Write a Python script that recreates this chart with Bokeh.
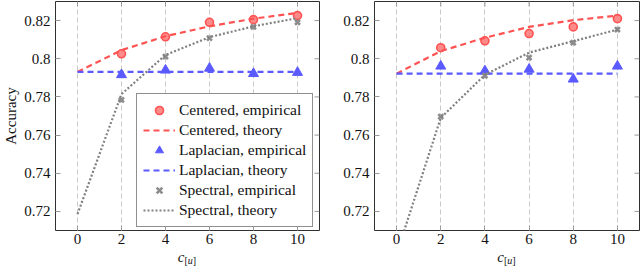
import math
from bokeh.plotting import figure
from bokeh.models import Legend, LegendItem, FixedTicker, Range1d, Div
from bokeh.layouts import row, column
from bokeh.embed import file_html
from bokeh.resources import INLINE

# ---------------- data ----------------
x_theory = [0, 2, 4, 6, 8, 10]
x_emp = [2, 4, 6, 8, 10]
x_ticks = [0, 2, 4, 6, 8, 10]
y_ticks = [0.72, 0.74, 0.76, 0.78, 0.80, 0.82]
y_tick_labels = {0.72: "0.72", 0.74: "0.74", 0.76: "0.76", 0.78: "0.78", 0.8: "0.8", 0.82: "0.82"}
x_min, x_max = -1, 11
y_min, y_max = 0.71, 0.83

# left panel
cent_emp_L = [0.8026, 0.8115, 0.8191, 0.8205, 0.8226]
cent_th_L = [0.7931, 0.8045, 0.8118, 0.8170, 0.8210, 0.8240]
lap_emp_L = [0.7916, 0.7940, 0.7950, 0.7922, 0.7928]
lap_th_L = [0.7931, 0.7931, 0.7931, 0.7931, 0.7931, 0.7931]
spec_emp_L = [0.7784, 0.8011, 0.8108, 0.8167, 0.8191]
spec_th_L = [0.7186, 0.7815, 0.8020, 0.8113, 0.8170, 0.8213]

# right panel
cent_emp_R = [0.8058, 0.8094, 0.8132, 0.8167, 0.8210]
cent_th_R = [0.7922, 0.8040, 0.8110, 0.8167, 0.8202, 0.8226]
lap_emp_R = [0.7961, 0.7936, 0.7945, 0.7893, 0.7961]
lap_th_R = [0.7922, 0.7922, 0.7922, 0.7922, 0.7922, 0.7922]
spec_emp_R = [0.7697, 0.7911, 0.8006, 0.8084, 0.8153]
spec_th_R = [0.6977, 0.7690, 0.7916, 0.8032, 0.8092, 0.8153]

legend_labels = ["Centered, empirical", "Centered, theory",
                 "Laplacian, empirical", "Laplacian, theory",
                 "Spectral, empirical", "Spectral, theory"]

FONT = "'Liberation Serif', 'DejaVu Serif', serif"
RED_LINE = "#ff5252"
RED_FILL = "#ff8a8a"
BLUE = "#5a5aff"
GRAY = "#8c8c8c"
TICK = "#9a9a9a"


def make_panel(cent_emp, cent_th, lap_emp, lap_th, spec_emp, spec_th,
               border_left, show_ylabel, show_legend):
    p = figure(width=320, height=250, output_backend="svg", toolbar_location=None,
               x_range=Range1d(x_min, x_max), y_range=Range1d(y_min, y_max),
               min_border_left=border_left, min_border_right=1,
               min_border_top=1, min_border_bottom=20)
    p.outline_line_color = "#303030"
    p.outline_line_width = 1
    p.background_fill_color = "white"
    p.border_fill_color = "white"

    # grid
    p.xgrid.ticker = FixedTicker(ticks=x_ticks)
    p.xgrid.grid_line_color = "#c8c8c8"
    p.xgrid.grid_line_dash = "5 3"
    p.xgrid.grid_line_width = 1
    p.ygrid.grid_line_color = None

    # axes
    for ax in (p.xaxis[0], p.yaxis[0]):
        ax.axis_line_color = None
        ax.major_tick_in = 5
        ax.major_tick_out = 0
        ax.minor_tick_line_color = None
        ax.major_tick_line_color = TICK
        ax.major_label_text_font = FONT
        ax.major_label_text_font_size = "15px"
        ax.major_label_text_color = "#111111"
    p.xaxis[0].ticker = FixedTicker(ticks=x_ticks)
    p.xaxis[0].major_label_standoff = 3
    p.yaxis[0].ticker = FixedTicker(ticks=y_ticks)
    p.yaxis[0].major_label_overrides = y_tick_labels
    p.yaxis[0].major_label_standoff = 5
    if show_ylabel:
        p.yaxis[0].axis_label = "Accuracy"
        p.yaxis[0].axis_label_text_font = FONT
        p.yaxis[0].axis_label_text_font_size = "15px"
        p.yaxis[0].axis_label_text_font_style = "normal"
        p.yaxis[0].axis_label_text_color = "#111111"
        p.yaxis[0].axis_label_standoff = 2

    # opposite-side tick marks (right and top), pgfplots style
    p.ray(x=[x_max] * len(y_ticks), y=y_ticks, length=5, length_units="screen",
          angle=math.pi, line_color=TICK, line_width=1)
    p.ray(x=x_ticks, y=[y_max] * len(x_ticks), length=5, length_units="screen",
          angle=-math.pi / 2, line_color=TICK, line_width=1)

    # glyphs
    r1 = p.scatter(x_emp, cent_emp, marker="circle", size=8, line_color=RED_LINE,
                   fill_color=RED_FILL, line_width=1.6)
    r2 = p.line(x_theory, cent_th, line_color=RED_LINE, line_width=2.2, line_dash="6 4")
    r3 = p.scatter(x_emp, lap_emp, marker="triangle", size=10, line_color=BLUE,
                   fill_color=BLUE, line_width=1)
    r4 = p.line(x_theory, lap_th, line_color=BLUE, line_width=2.2, line_dash="6 4")
    r5 = p.scatter(x_emp, spec_emp, marker="x", size=7, line_color=GRAY, line_width=2.6)
    r6 = p.line(x_theory, spec_th, line_color="#808080", line_width=2.2, line_dash="2 2")

    if show_legend:
        items = [LegendItem(label=l, renderers=[r]) for l, r in
                 zip(legend_labels, [r1, r2, r3, r4, r5, r6])]
        legend = Legend(items=items, location=(81, 3),
                        label_text_font=FONT, label_text_font_size="15.5px",
                        label_text_color="#111111",
                        glyph_width=32, glyph_height=20, label_height=20,
                        label_standoff=4, spacing=0, padding=6, margin=0,
                        border_line_color="#202020", border_line_width=1,
                        background_fill_alpha=1)
        p.add_layout(legend, "center")
    return p


def xlabel_div(pad_left, frame_w):
    html = ("<div style=\"width:%dpx; margin-left:%dpx; text-align:center; "
            "font-family:'Liberation Serif', serif; font-size:15px; line-height:14px; "
            "color:#111; padding-top:0px;\"><i>c</i><span style=\"font-size:10px; "
            "line-height:10px; vertical-align:-2px;\">[<i>u</i>]</span></div>") % (frame_w, pad_left)
    return Div(text=html, width=320, height=17, margin=(0, 0, 0, 0))


p1 = make_panel(cent_emp_L, cent_th_L, lap_emp_L, lap_th_L, spec_emp_L, spec_th_L,
                55, True, True)
p2 = make_panel(cent_emp_R, cent_th_R, lap_emp_R, lap_th_R, spec_emp_R, spec_th_R,
                54, False, False)
d1 = xlabel_div(55, 264)
d2 = xlabel_div(54, 265)

p = column(row(p1, p2), row(d1, d2))

open("out.html", "w").write(file_html(p, INLINE))
